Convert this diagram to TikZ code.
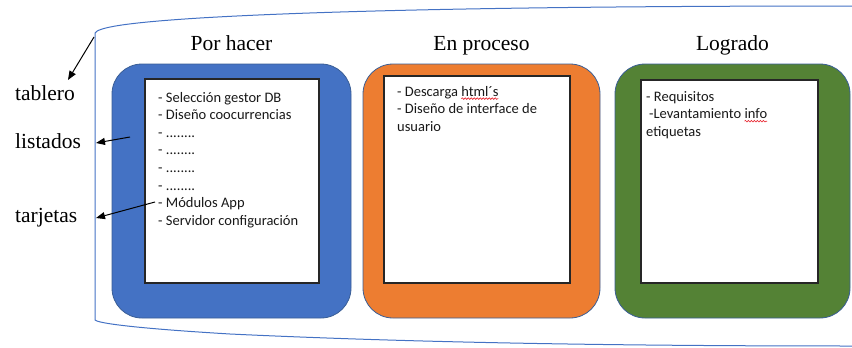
\documentclass[tikz,border=0pt]{standalone}
\usepackage{fontspec}
\setmainfont{Liberation Serif}
\newfontfamily\cardfont{Carlito}
\usetikzlibrary{arrows.meta,decorations.pathmorphing}
\definecolor{colblue}{HTML}{4472C4}
\definecolor{colorange}{HTML}{ED7D31}
\definecolor{colgreen}{HTML}{548235}
\definecolor{colborder}{HTML}{3A5E96}
\definecolor{squigred}{HTML}{E8202A}
\newcommand\squig[1]{\tikz[baseline=(sqw.base)]{\node[inner sep=0pt,outer sep=0pt,anchor=base](sqw){#1};\draw[overlay,squigred,line width=0.6pt,decorate,decoration={snake,amplitude=0.8pt,segment length=3pt}] ([yshift=-2.6pt]sqw.base west) -- ([yshift=-2.6pt]sqw.base east);}}
\newcommand\cardlines[1]{\begin{tabular}[t]{@{}l@{}}#1\end{tabular}}
\tikzset{
  colbox/.style={draw=colborder,line width=0.8pt,rounded corners=30pt,inner sep=0pt,outer sep=0pt},
  cardbox/.style={draw=black!85,fill=white,line width=1.1pt,inner sep=0pt,outer sep=0pt},
  title/.style={font=\fontsize{21.5}{24}\selectfont,inner sep=0pt,anchor=base},
  sidelabel/.style={font=\fontsize{21.5}{24}\selectfont,inner sep=0pt,anchor=base west},
  cardtext/.style={font=\cardfont\fontsize{14.5}{17.6}\selectfont,inner sep=0pt,anchor=base west,text=black!90},
  bracket/.style={draw=colblue,line width=1pt},
  pointer/.style={draw=black,line width=1pt,-{Triangle[length=9pt,width=7pt]}}
}
\begin{document}
\begin{tikzpicture}[x=1pt,y=-1pt]
\useasboundingbox (0,0) rectangle (852,348);
% board outline
\draw[bracket] (852,6) .. controls (600,6) and (350,9) .. (200,18)
  .. controls (120,23) and (98,28) .. (95,33) -- (95,320)
  .. controls (98,323) and (130,328) .. (230,334)
  .. controls (400,342) and (600,346) .. (852,346);
% column titles
\node[title] (t1) at (231.5,50) {Por hacer};
\node[title] (t2) at (481.5,50) {En proceso};
\node[title] (t3) at (732.5,50) {Logrado};
% columns
\node[colbox,fill=colblue,minimum width=239pt,minimum height=254pt] (b1) at (231.5,191) {};
\node[colbox,fill=colorange,minimum width=237pt,minimum height=254pt] (b2) at (481.5,191) {};
\node[colbox,fill=colgreen,minimum width=235pt,minimum height=254pt] (b3) at (732.5,191) {};
% cards
\node[cardbox,minimum width=174pt,minimum height=204pt] (c1) at (232,181) {};
\node[cardbox,minimum width=186pt,minimum height=207pt] (c2) at (477,179.5) {};
\node[cardbox,minimum width=177pt,minimum height=203pt] (c3) at (729.5,181.5) {};
% card texts
\node[cardtext] (x1) at (158,102) {\cardlines{- Selección gestor DB\\- Diseño coocurrencias\\- ........\\- ........\\- ........\\- ........\\- Módulos App\\- Servidor configuración}};
\node[cardtext] (x2) at (397,96) {\cardlines{- Descarga \squig{html´s}\\- Diseño de interface de\\usuario}};
\node[cardtext] (x3) at (646,101) {\cardlines{- Requisitos\\\hspace{3pt}-Levantamiento \squig{info}\\etiquetas}};
% side labels
\node[sidelabel] (l1) at (15,100) {tablero};
\node[sidelabel] (l2) at (15,148) {listados};
\node[sidelabel] (l3) at (15,222) {tarjetas};
% pointers
\coordinate (pa1) at (94,37);
\coordinate (pb1) at (68,80);
\coordinate (pa2) at (130,137);
\coordinate (pb2) at (96,143);
\coordinate (pa3) at (155,202);
\coordinate (pb3) at (96,218);
\draw[pointer] (pa1) -- (pb1);
\draw[pointer] (pa2) -- (pb2);
\draw[pointer] (pa3) -- (pb3);
\end{tikzpicture}
\end{document}
